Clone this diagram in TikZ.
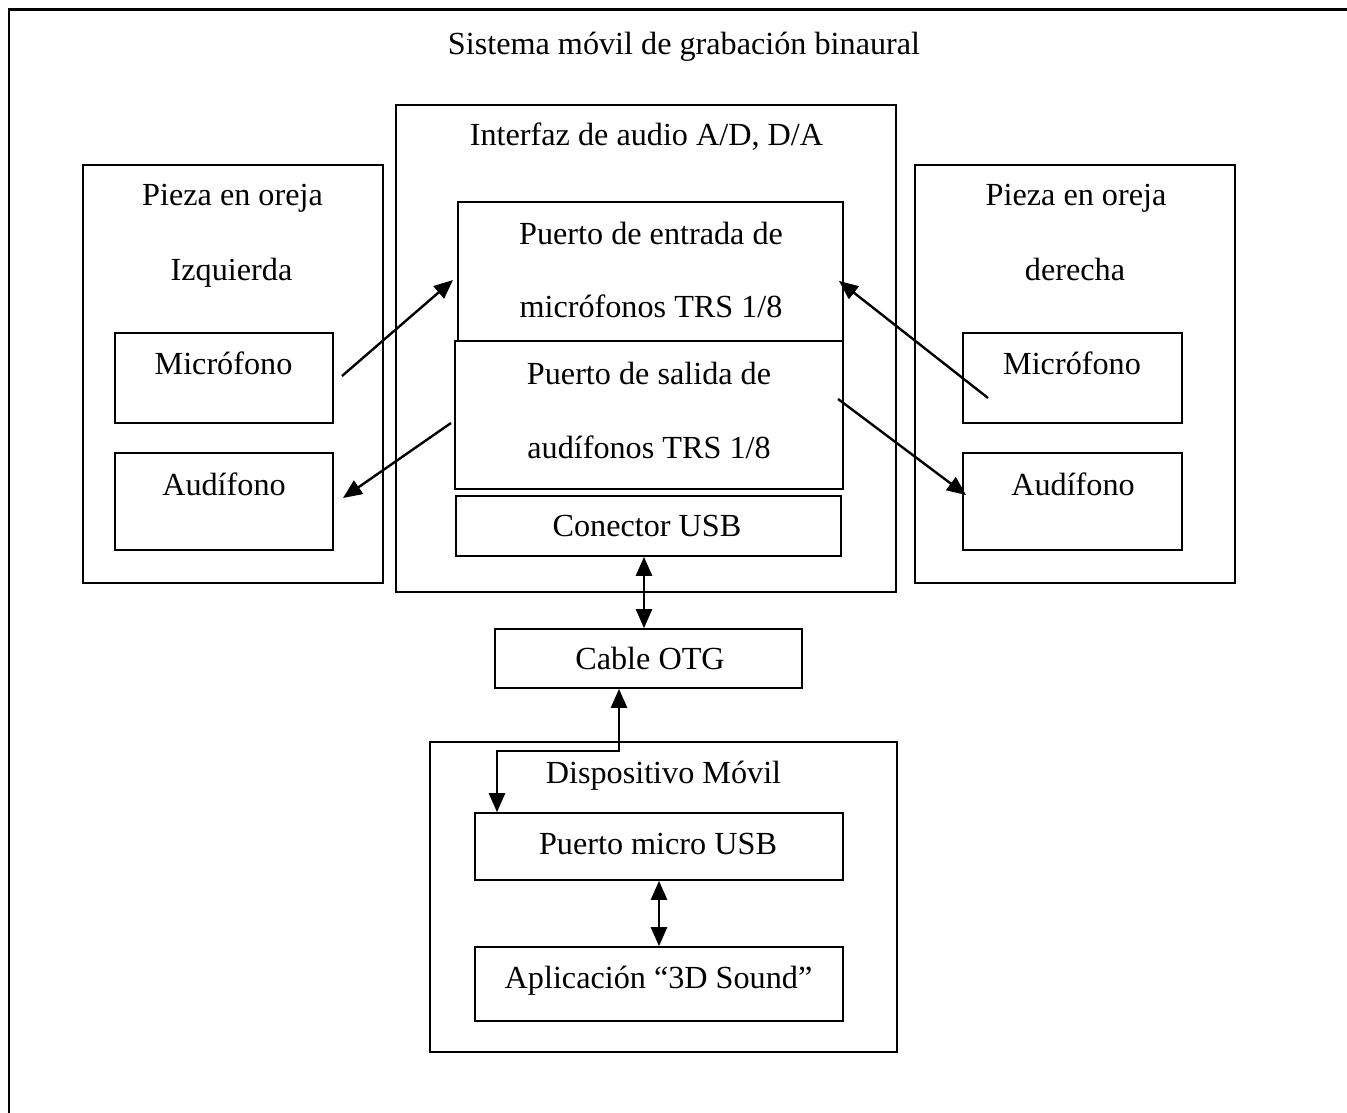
\documentclass[tikz,border=0pt]{standalone}
\usepackage{fontspec}
\setmainfont{Liberation Serif}
\usetikzlibrary{fit,arrows.meta}
\begin{document}
\begin{tikzpicture}[x=0.5pt,y=-0.5pt,
  box/.style={draw,line width=0.8pt,inner sep=0pt},
  label/.style={anchor=base,inner sep=0pt,font=\fontsize{16.1pt}{19pt}\selectfont},
  tip/.tip={Triangle[length=9.5pt,width=8pt]},
  link/.style={line width=1.2pt,-tip},
  dlink/.style={line width=1.2pt,tip-tip}]
\useasboundingbox (0,0) rectangle (1347,1112);

% outer frame (continues past the page on the right and bottom)
\node[draw,line width=1.2pt,inner sep=0pt,fit={(9,9.5) (1380,1140)}] (frame) {};
\node[label] (title) at (684,55) {Sistema móvil de grabación binaural};

% left ear piece
\node[box,fit={(83,165) (383,583)}] (lpiece) {};
\node[label] (lpt1) at (232.5,206) {Pieza en oreja};
\node[label] (lpt2) at (231.5,281) {Izquierda};
\node[box,fit={(115,333) (333,423)}] (lmic) {};
\node[label] (lmict) at (223.5,374) {Micrófono};
\node[box,fit={(115,453) (333,550)}] (lphone) {};
\node[label] (lphonet) at (224,495) {Audífono};

% right ear piece
\node[box,fit={(915,165) (1235,583)}] (rpiece) {};
\node[label] (rpt1) at (1076,206) {Pieza en oreja};
\node[label] (rpt2) at (1075,281) {derecha};
\node[box,fit={(963,333) (1182,423)}] (rmic) {};
\node[label] (rmict) at (1072,374) {Micrófono};
\node[box,fit={(963,453) (1182,550)}] (rphone) {};
\node[label] (rphonet) at (1073,495) {Audífono};

% audio interface
\node[box,fit={(396,105) (896,592)}] (iface) {};
\node[label] (ifacet) at (646.5,146) {Interfaz de audio A/D, D/A};
\node[box,fit={(458,202) (843,341)}] (inport) {};
\node[label] (inport1) at (651,245) {Puerto de entrada de};
\node[label] (inport2) at (651,318) {micrófonos TRS 1/8};
\node[box,fit={(455,341) (843,489)}] (outport) {};
\node[label] (outport1) at (649,384) {Puerto de salida de};
\node[label] (outport2) at (649,458) {audífonos TRS 1/8};
\node[box,fit={(456,496) (841,556)}] (usb) {};
\node[label] (usbt) at (647,536) {Conector USB};

% OTG cable
\node[box,fit={(495,629) (802,688)}] (otg) {};
\node[label] (otgt) at (650,669) {Cable OTG};

% mobile device
\node[box,fit={(430,742) (897,1052)}] (mobile) {};
\node[label] (mobilet) at (663.5,783) {Dispositivo Móvil};
\node[box,fit={(475,813) (843,880)}] (micro) {};
\node[label] (microt) at (658,854) {Puerto micro USB};
\node[box,fit={(475,947) (843,1021)}] (app) {};
\node[label] (appt) at (658.5,988) {Aplicación “3D Sound”};

% signal paths
\coordinate (lmicA) at (342,376);   \coordinate (lmicB) at (453,280);
\coordinate (lphA) at (451,423);    \coordinate (lphB) at (343,498);
\coordinate (rmicA) at (988,398);   \coordinate (rmicB) at (839,281);
\coordinate (rphA) at (838,399);    \coordinate (rphB) at (966,495);
\draw[link] (lmicA) -- (lmicB);
\draw[link] (lphA) -- (lphB);
\draw[link] (rmicA) -- (rmicB);
\draw[link] (rphA) -- (rphB);

\draw[dlink] (usb.south -| 644,0) -- (otg.north -| 644,0);
\draw[dlink] (otg.south -| 619,0) -- (619,751) -- (497,751) -- (micro.north -| 497,0);
\draw[dlink] (micro.south -| 659,0) -- (app.north -| 659,0);
\end{tikzpicture}
\end{document}
